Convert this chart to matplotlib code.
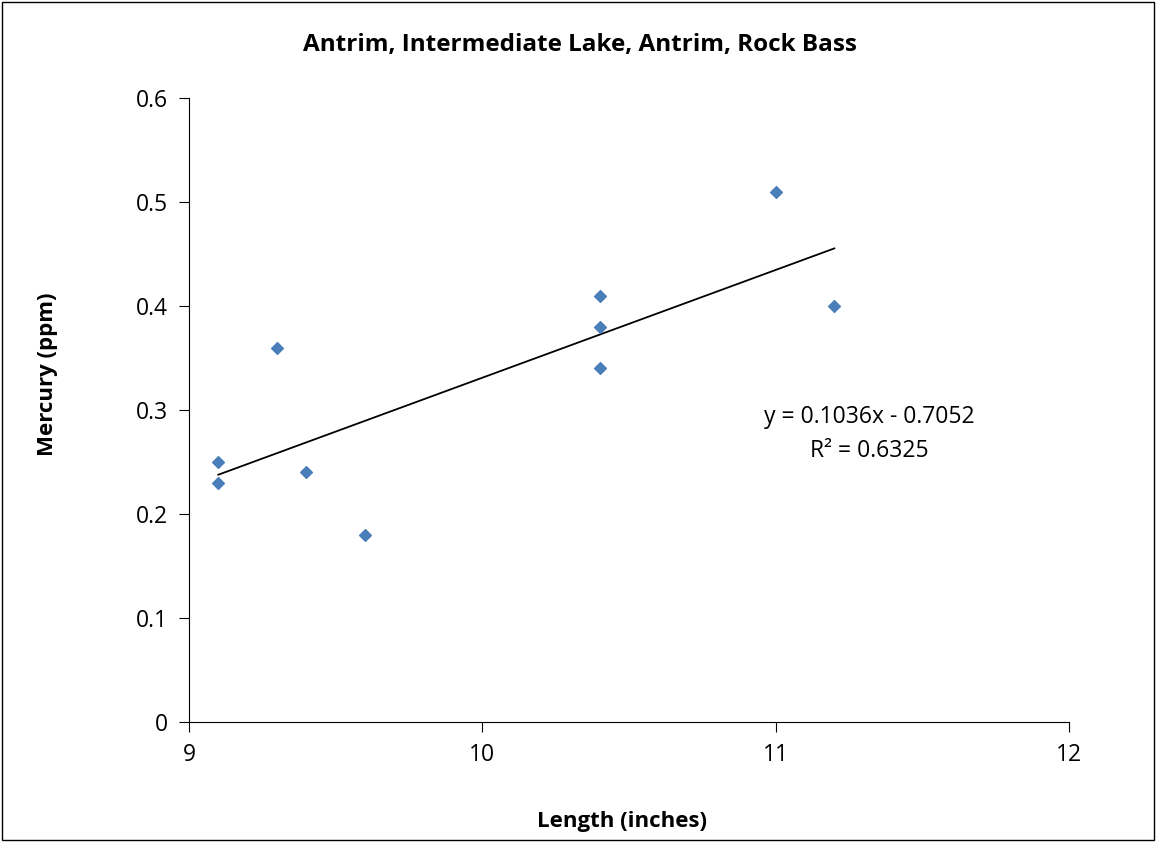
import matplotlib.pyplot as plt
import numpy as np
from matplotlib.patches import Rectangle

plt.rcParams['font.family'] = ['Open Sans', 'DejaVu Sans']

length = [9.1, 9.1, 9.3, 9.4, 9.6, 10.4, 10.4, 10.4, 11.0, 11.2]
mercury = [0.25, 0.23, 0.36, 0.24, 0.18, 0.41, 0.38, 0.34, 0.51, 0.40]
xticks = [9, 10, 11, 12]
yticks = [0, 0.1, 0.2, 0.3, 0.4, 0.5, 0.6]

W, H = 1156, 842
fig = plt.figure(figsize=(W/100, H/100), dpi=100)
fig.patches.append(Rectangle((0.002, 0.002), 0.996, 0.996, transform=fig.transFigure,
                             fill=False, edgecolor='black', linewidth=1))
ax = fig.add_axes([189/W, 1 - 722/H, (1069-189)/W, (722-98)/H])

ax.scatter(length, mercury, marker='D', s=36, color='#4a7ebb', zorder=3)

# linear trendline
slope, icpt = np.polyfit(length, mercury, 1)
xs = np.array([min(length), max(length)])
ax.plot(xs, slope*xs + icpt, color='black', linewidth=1.3)
r2 = np.corrcoef(length, mercury)[0, 1]**2
ax.text(11.32, 0.277, 'y = %.4fx - %.4f\nR² = %.4f' % (slope, -icpt, r2),
        ha='center', va='center', fontsize=16.5, linespacing=1.55)

ax.set_xlim(9, 12)
ax.set_ylim(0, 0.6)
ax.set_xticks(xticks)
ax.set_yticks(yticks)
ax.set_yticklabels(['0', '0.1', '0.2', '0.3', '0.4', '0.5', '0.6'])
ax.tick_params(labelsize=16.5, direction='out', length=7, pad=8)
for s in ['top', 'right']:
    ax.spines[s].set_visible(False)

fig.text(580/W, 1 - 45/H, 'Antrim, Intermediate Lake, Antrim, Rock Bass', fontsize=17.5,
         fontweight='bold', ha='center', va='center')
fig.text(622/W, 1 - 822/H, 'Length (inches)', fontsize=16, fontweight='bold',
         ha='center', va='center')
fig.text(48/W, 1 - 374/H, 'Mercury (ppm)', fontsize=16, fontweight='bold',
         ha='center', va='center', rotation=90)

fig.savefig('out.png', dpi=100)
